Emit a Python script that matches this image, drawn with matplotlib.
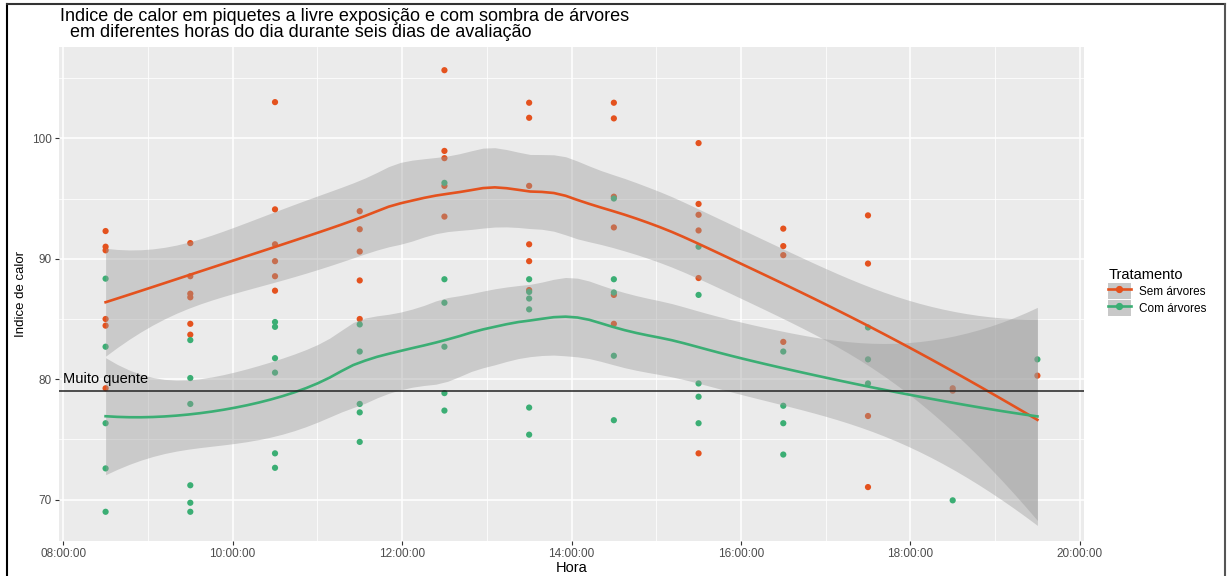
import numpy as np
import matplotlib
matplotlib.use('Agg')
import matplotlib.pyplot as plt
from matplotlib.lines import Line2D
from matplotlib.patches import Patch
from matplotlib.legend_handler import HandlerTuple
from matplotlib.ticker import FixedLocator, FuncFormatter

plt.rcParams['font.family'] = ['Liberation Sans', 'DejaVu Sans']

# hours of the measurements (decimal hours)
hours = [8.5, 9.5, 10.5, 11.5, 12.5, 13.5, 14.5, 15.5, 16.5, 17.5, 18.5, 19.5]

# heat index readings per hour
sem_arvores = [
    [92.3, 91.0, 90.7, 85.0, 84.45, 79.25],
    [91.3, 88.55, 87.1, 86.8, 84.6, 83.7],
    [103.0, 94.1, 91.2, 89.8, 88.55, 87.35],
    [93.95, 92.45, 90.6, 88.2, 85.0],
    [105.65, 98.95, 98.35, 96.05, 93.5],
    [102.95, 101.7, 96.05, 91.2, 89.8, 87.4],
    [102.95, 101.65, 95.15, 92.6, 87.0, 84.6],
    [99.6, 94.55, 93.65, 92.35, 88.4, 73.85],
    [92.5, 91.05, 90.3, 83.1],
    [93.6, 89.6, 76.95, 71.05],
    [79.25, 79.05],
    [80.3],
]
com_arvores = [
    [88.35, 82.7, 76.35, 72.6, 69.0],
    [83.25, 80.1, 77.95, 71.2, 69.75, 69.0],
    [84.75, 84.35, 81.75, 80.55, 73.85, 72.65],
    [84.55, 82.3, 77.95, 77.25, 74.8],
    [96.3, 88.3, 86.35, 82.7, 78.85, 77.4],
    [88.3, 87.25, 86.7, 85.8, 77.65, 75.4],
    [95.0, 88.3, 87.2, 81.95, 76.6],
    [91.0, 87.0, 79.65, 78.55, 76.35],
    [82.3, 77.8, 76.35, 73.75],
    [84.3, 81.65, 79.65],
    [69.95],
    [81.65],
]

labels = ['Sem árvores', 'Com árvores']
colors = ['#E4521E', '#3BAE74']
limite = 79
limite_txt = 'Muito quente'


def flatten(groups):
    xs, ys = [], []
    for h, vals in zip(hours, groups):
        xs += [h] * len(vals)
        ys += vals
    return np.array(xs), np.array(ys)


def t975(df):
    # Cornish-Fisher approximation of the t quantile
    z = 1.959964
    g1 = (z**3 + z) / 4
    g2 = (5 * z**5 + 16 * z**3 + 3 * z) / 96
    g3 = (3 * z**7 + 19 * z**5 + 17 * z**3 - 15 * z) / 384
    return z + g1 / df + g2 / df**2 + g3 / df**3


def loess_weights(x, x0, span=0.75):
    q = int(np.floor(len(x) * span))
    d = np.abs(x - x0)
    h = np.sort(d)[q - 1]
    u = np.clip(d / h, 0, 1)
    w = (1 - u**3)**3
    X = np.column_stack([np.ones_like(x), x - x0, (x - x0)**2])
    XtW = X.T * w
    return np.linalg.solve(XtW @ X, XtW)[0]


def loess(x, y, n=80):
    L = np.array([loess_weights(x, xi) for xi in x])
    R = np.eye(len(x)) - L
    M = R.T @ R
    d1 = np.trace(M)
    d2 = np.trace(M @ M)
    sigma = np.sqrt(np.sum((R @ y)**2) / d1)
    t = t975(d1**2 / d2)
    grid = np.linspace(x.min(), x.max(), n)
    fit, se = [], []
    for g in grid:
        l = loess_weights(x, g)
        fit.append(l @ y)
        se.append(sigma * np.sqrt(np.sum(l**2)))
    fit, se = np.array(fit), np.array(se)
    return grid, fit, fit - t * se, fit + t * se


fig = plt.figure(figsize=(12.27, 5.76), dpi=100)
ax = fig.add_axes([59 / 1227, 35.3 / 576, 1025 / 1227, 494 / 576])
ax.set_facecolor('#EBEBEB')
for s in ax.spines.values():
    s.set_visible(False)

ax.xaxis.set_major_locator(FixedLocator(range(8, 21, 2)))
ax.xaxis.set_minor_locator(FixedLocator(range(9, 21, 2)))
ax.yaxis.set_major_locator(FixedLocator([70, 80, 90, 100]))
ax.yaxis.set_minor_locator(FixedLocator([75, 85, 95, 105]))
ax.grid(which='major', color='white', lw=1.1)
ax.grid(which='minor', color='white', lw=0.55)
ax.set_axisbelow(True)
ax.xaxis.set_major_formatter(FuncFormatter(lambda h, p: f'{int(h):02d}:00:00'))
ax.tick_params(which='major', length=3, color='#333333', labelsize=8.5,
               labelcolor='#4D4D4D', pad=2)
ax.tick_params(which='minor', length=0)

handles = []
for groups, lab, col in zip([sem_arvores, com_arvores], labels, colors):
    x, y = flatten(groups)
    ax.scatter(x, y, s=20, color=col, edgecolors='none', zorder=2)
    gx, fit, lo, hi = loess(x, y)
    ax.fill_between(gx, lo, hi, color='#999999', alpha=0.4, lw=0, zorder=3)
    ax.plot(gx, fit, color=col, lw=1.9, zorder=4)
    handles.append((Patch(facecolor='#C8C8C8', edgecolor='none'),
                    Line2D([], [], color=col, lw=1.9, marker='o', ms=4.2)))

ax.axhline(limite, color='#222222', lw=1.1, zorder=5)
ax.text(8.5, 80, limite_txt, ha='center', va='center', fontsize=10.5, zorder=6)

ax.set_xlim(7.95, 20.05)
ax.set_ylim(66.6, 107.6)
ax.set_xlabel('Hora', fontsize=10.5, labelpad=1)
ax.set_ylabel('Indice de calor', fontsize=9.5, labelpad=4)

fig.text(60 / 1227, 1 - 8 / 576,
         'Indice de calor em piquetes a livre exposição e com sombra de árvores\n'
         '  em diferentes horas do dia durante seis dias de avaliação',
         ha='left', va='top', fontsize=13, linespacing=0.92)

leg = fig.legend(handles, labels, title='Tratamento',
                 handler_map={tuple: HandlerTuple(ndivide=1)},
                 loc='center left', bbox_to_anchor=(1100 / 1227, 1 - 292 / 576),
                 frameon=False, fontsize=8.5, title_fontsize=10.5,
                 handlelength=1.9, handleheight=1.75, labelspacing=0.05,
                 handletextpad=0.7, alignment='left', borderpad=0.2)

# outer frame
fig.add_artist(Line2D([7 / 1227, 7 / 1227], [0, 1 - 4 / 576], color='black', lw=1.5))
fig.add_artist(Line2D([7 / 1227, 1225 / 1227], [1 - 4 / 576, 1 - 4 / 576], color='#333333', lw=1.5))
fig.add_artist(Line2D([1225 / 1227, 1225 / 1227], [0, 1 - 4 / 576], color='#555555', lw=1.5))

fig.savefig('out.png', dpi=100)
